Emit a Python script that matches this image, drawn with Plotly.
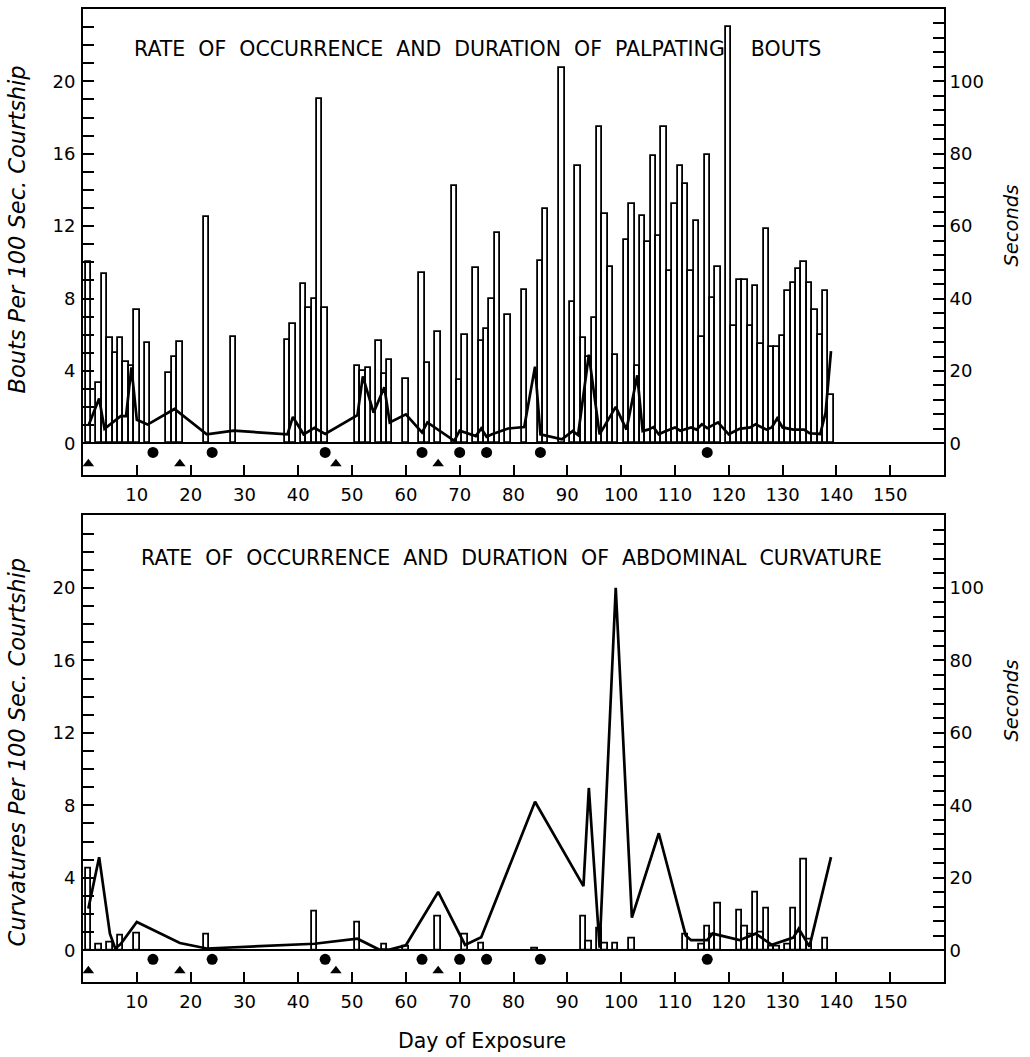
import plotly.graph_objects as go

# ---------------- data ----------------
# Palpating bouts: rate (bouts per 100 s courtship) by day of exposure
palp_days = [1, 3, 4, 5, 6, 7, 8, 9, 10, 12, 16, 17, 18, 23, 28, 38, 39, 41, 42, 43, 44, 45,
             51, 52, 53, 55, 56, 57, 60, 63, 64, 66, 69, 70, 71, 73, 74, 75, 76, 77, 79, 82,
             85, 86, 89, 91, 92, 93, 94, 95, 96, 97, 98, 99, 101, 102, 103, 104, 105, 106,
             107, 108, 109, 110, 111, 112, 113, 114, 115, 116, 117, 118, 120, 121, 122, 123,
             124, 125, 126, 127, 128, 129, 130, 131, 132, 133, 134, 135, 136, 137, 138, 139]
palp_rate = [10.0, 3.35, 9.35, 5.8, 5.0, 5.8, 4.5, 4.3, 7.35, 5.55, 3.9, 4.8, 5.6, 12.5, 5.9,
             5.7, 6.6, 8.8, 7.5, 7.95, 19.0, 7.5,
             4.3, 4.0, 4.15, 5.65, 3.85, 4.6, 3.55, 9.4, 4.45, 6.15, 14.2, 3.5, 6.0, 9.7, 5.65,
             6.3, 8.0, 11.65, 7.1, 8.5,
             10.05, 12.95, 20.75, 7.8, 15.3, 5.8, 4.8, 6.9, 17.5, 12.7, 9.75, 4.9, 11.25, 13.2,
             4.3, 12.55, 11.15, 15.9,
             11.45, 17.5, 9.5, 13.25, 15.3, 14.35, 9.5, 12.3, 5.85, 15.95, 8.05, 9.75, 23.0,
             6.5, 9.05, 9.05,
             6.5, 8.7, 5.5, 11.85, 5.35, 5.35, 5.95, 8.4, 8.85, 9.65, 10.0, 8.85, 7.35, 6.0,
             8.4, 2.65]

# Palpating bouts: mean duration (seconds)
palp_dur_days = [1, 3, 4, 7, 8, 9, 10, 12, 17, 23, 28, 38, 39, 41, 43, 45, 51, 52, 54, 56, 57,
                 60, 63, 64, 69, 70, 73, 74, 75, 76, 79, 82, 84, 85, 89, 91, 92, 94, 96, 99,
                 101, 103, 104, 105, 106, 107, 108, 110, 111, 113, 114, 115, 116, 118, 120,
                 122, 124, 125, 127, 128, 129, 130, 132, 134, 135, 137, 138, 139]
palp_dur_sec = [4.9, 12.4, 4.0, 7.5, 7.5, 21.0, 6.5, 5.2, 9.5, 2.5, 3.5, 2.5, 7.3, 2.5, 4.3,
                2.6, 7.8, 18.5, 8.5, 15.5, 5.8,
                8.0, 3.0, 5.8, 0.7, 3.5, 2.0, 4.1, 1.8, 2.5, 4.1, 4.5, 21.2, 2.5, 1.1, 3.4,
                2.3, 24.5, 2.5, 10.1,
                3.8, 18.8, 3.4, 3.8, 4.5, 2.5, 3.2, 4.4, 3.5, 4.4, 3.8, 5.3, 4.2, 5.8, 2.5,
                4.0, 4.4, 5.3, 3.8, 4.4, 6.9, 4.4, 3.8, 3.8, 2.8, 2.6, 8.5, 25.5]

# Abdominal curvature: rate (curvatures per 100 s courtship)
curv_days = [1, 3, 5, 7, 10, 23, 43, 51, 56, 60, 66, 71, 74, 84, 93, 94, 96, 97, 99, 102,
             112, 115, 116, 117, 118, 122, 123, 124, 125, 126, 127, 128, 129, 131, 132, 133,
             134, 135, 138]
curv_rate = [4.5, 0.3, 0.45, 0.8, 0.95, 0.9, 2.15, 1.55, 0.3, 0.2, 1.85, 0.9, 0.4, 0.1, 1.85,
             0.5, 1.2, 0.4, 0.35, 0.65,
             0.85, 0.3, 1.3, 0.85, 2.6, 2.2, 1.3, 0.9, 3.2, 1.0, 2.3, 0.2, 0.2, 0.3, 2.3, 1.0,
             5.0, 0.6, 0.65]

# Abdominal curvature: mean duration (seconds)
curv_dur_days = [1, 3, 5, 6, 7, 10, 18, 23, 43, 51, 55, 57, 60, 66, 71, 74, 84, 93, 94, 96,
                 99, 102, 107, 112, 113, 116, 117, 122, 125, 128, 132, 133, 135, 139]
curv_dur_sec = [11.5, 25.7, 4.6, 0.5, 1.7, 7.8, 2.0, 0.5, 1.8, 3.2, 0.2, 0.2, 1.4, 16.1, 1.5,
                3.6, 41.0, 17.7, 44.8, 0.7,
                100.0, 9.0, 32.3, 4.1, 2.8, 2.8, 4.6, 2.8, 4.6, 1.5, 3.5, 6.0, 1.0, 25.7]

# Event days marked under the baseline
circle_days = [13, 24, 45, 63, 70, 75, 85, 116]
triangle_days = [1, 18, 47, 66]

# Axis ticks
x_ticks = [10, 20, 30, 40, 50, 60, 70, 80, 90, 100, 110, 120, 130, 140, 150]
rate_ticks = [0, 4, 8, 12, 16, 20]
sec_ticks = [0, 20, 40, 60, 80, 100]

top_title = ("RATE\u00a0 OF\u00a0 OCCURRENCE\u00a0 AND\u00a0 DURATION\u00a0 OF\u00a0 "
             "PALPATING\u00a0\u00a0\u00a0 BOUTS")
bottom_title = ("RATE\u00a0 OF\u00a0 OCCURRENCE\u00a0 AND\u00a0 DURATION\u00a0 OF\u00a0 "
                "ABDOMINAL\u00a0 CURVATURE")

# ---------------- layout geometry ----------------
W, H = 1030, 1057
ML, MR, MT, MB = 83, 86, 7, 75
PLOT_BOTTOM = H - MB
PLOT_H = H - MT - MB
RATE_RANGE = [-1.75, 24]
SEC_RANGE = [r * 5 for r in RATE_RANGE]
CIRCLE_ROW = -0.5
TRIANGLE_ROW = -1.13


def dom(top_px, bot_px):
    return [(PLOT_BOTTOM - bot_px) / PLOT_H, (PLOT_BOTTOM - top_px) / PLOT_H]


TOP_DOMAIN = dom(7, 474)
BOT_DOMAIN = dom(514.5, 982)

FONT = "DejaVu Sans"
INK = "black"

fig = go.Figure()


def add_panel(xa, ya, ya2, days, rate, ddays, dsec):
    fig.add_trace(go.Bar(
        x=days, y=rate, width=1.0, xaxis=xa, yaxis=ya,
        marker=dict(color="white", line=dict(color=INK, width=1.8)),
        showlegend=False, hoverinfo="skip"))
    fig.add_trace(go.Scatter(
        x=ddays, y=dsec, mode="lines", xaxis=xa, yaxis=ya2,
        line=dict(color=INK, width=2.7), showlegend=False, hoverinfo="skip"))
    fig.add_trace(go.Scatter(
        x=circle_days, y=[CIRCLE_ROW] * len(circle_days), mode="markers",
        xaxis=xa, yaxis=ya, marker=dict(symbol="circle", size=11, color=INK),
        showlegend=False, hoverinfo="skip"))
    fig.add_trace(go.Scatter(
        x=triangle_days, y=[TRIANGLE_ROW] * len(triangle_days), mode="markers",
        xaxis=xa, yaxis=ya, marker=dict(symbol="triangle-up", size=10, color=INK),
        showlegend=False, hoverinfo="skip"))


add_panel("x", "y", "y2", palp_days, palp_rate, palp_dur_days, palp_dur_sec)
add_panel("x2", "y3", "y4", curv_days, curv_rate, curv_dur_days, curv_dur_sec)

tick_font = dict(family=FONT, size=18, color=INK)

rate_minor = [v for v in range(1, 24) if v % 4 != 0]
sec_minor = [v for v in range(4, 120, 4) if v % 20 != 0]


def x_axis(anchor):
    return dict(domain=[0, 1], range=[0, 160], anchor=anchor, tickvals=x_ticks,
                ticks="inside", ticklen=10, tickwidth=2, tickcolor=INK,
                showline=True, linewidth=2, linecolor=INK, mirror=True,
                showgrid=False, zeroline=False, tickfont=tick_font, ticklabelstandoff=2)


def left_axis(domain, anchor):
    return dict(domain=domain, range=RATE_RANGE, anchor=anchor, tickvals=rate_ticks,
                ticks="inside", ticklen=11, tickwidth=2, tickcolor=INK,
                minor=dict(tickvals=rate_minor, ticks="inside", ticklen=11,
                           tickwidth=2, tickcolor=INK, showgrid=False),
                showline=True, linewidth=2, linecolor=INK, mirror=True,
                showgrid=False, zeroline=True, zerolinecolor=INK, zerolinewidth=2,
                tickfont=tick_font, ticklabelstandoff=2)


def right_axis(overlay, anchor):
    return dict(overlaying=overlay, side="right", range=SEC_RANGE, anchor=anchor,
                tickvals=sec_ticks, ticks="inside", ticklen=11, tickwidth=2, tickcolor=INK,
                minor=dict(tickvals=sec_minor, ticks="inside", ticklen=11,
                           tickwidth=2, tickcolor=INK, showgrid=False),
                showline=True, linewidth=2, linecolor=INK,
                showgrid=False, zeroline=False, tickfont=tick_font, ticklabelstandoff=0)


def ypix(p):
    return (PLOT_BOTTOM - p) / PLOT_H


annotations = [
    dict(text=top_title, x=477, y=ypix(47), size=20.5),
    dict(text=bottom_title, x=511, y=ypix(557), size=20.5),
    dict(text="<i>Bouts Per 100 Sec. Courtship</i>", x=17, y=ypix(228), textangle=-90,
         size=22.5),
    dict(text="<i>Curvatures Per 100 Sec. Courtship</i>", x=17, y=ypix(752), textangle=-90,
         size=22.5),
    dict(text="<i>Seconds</i>", x=1012, y=ypix(224), textangle=-90, size=19.5),
    dict(text="<i>Seconds</i>", x=1012, y=ypix(700), textangle=-90, size=19.5),
    dict(text="Day of Exposure", x=482, y=ypix(1041), size=20.5),
]
ann = []
for a in annotations:
    ann.append(dict(
        text=a["text"], xref="paper", yref="paper",
        x=(a["x"] - ML) / (W - ML - MR), y=a["y"],
        xanchor="center", yanchor="middle", showarrow=False,
        textangle=a.get("textangle", 0),
        font=dict(family=FONT, size=a["size"], color=INK)))

fig.update_layout(
    width=W, height=H,
    margin=dict(l=ML, r=MR, t=MT, b=MB),
    paper_bgcolor="white", plot_bgcolor="white",
    bargap=0,
    xaxis=x_axis("y"),
    xaxis2=x_axis("y3"),
    yaxis=left_axis(TOP_DOMAIN, "x"),
    yaxis2=right_axis("y", "x"),
    yaxis3=left_axis(BOT_DOMAIN, "x2"),
    yaxis4=right_axis("y3", "x2"),
    annotations=ann,
    showlegend=False,
)

fig.write_html("out.html")
